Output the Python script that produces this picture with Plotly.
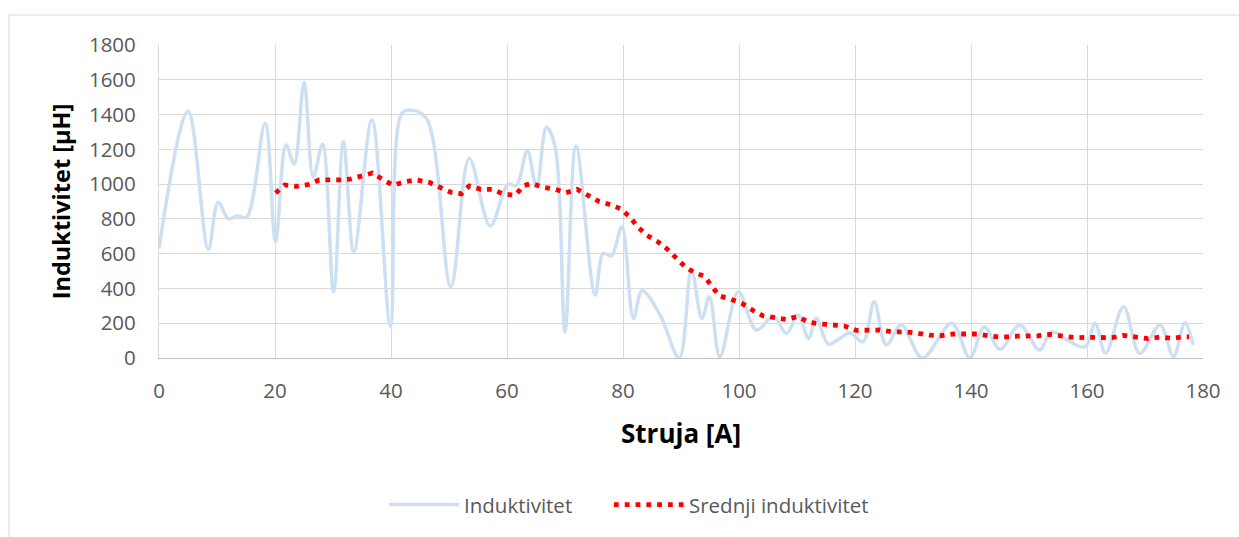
import plotly.graph_objects as go

# Induktivitet (measured, smoothed line)
ind_x = [0, 5, 8.5, 10.2, 12, 13.5, 15.1, 18.3, 20.1, 21.9, 23.3, 25, 26.6, 28.2, 30.1, 31.8, 33.6, 36.7,
         39.9, 41.8, 43.3, 46.1, 50.3, 53.5, 57.1, 60.2, 61.6, 63.5, 65.1, 66.8, 68.3, 70, 71.9, 75.2,
         76.6, 78, 79.8, 81.8, 83.3, 86.4, 89.7, 91.8, 93.6, 94.9, 96.7, 99.9, 103, 105.9, 108.2, 110.2,
         112, 113.3, 115.4, 117.4, 119.1, 121.4, 123.3, 125.4, 128, 131.6, 136.7, 139.8, 142.3, 145,
         148.4, 151.8, 153.9, 157, 159.7, 161.4, 163.2, 166.3, 169.1, 172.6, 174.9, 176.9, 178.3]
ind_y = [630, 1420, 625, 895, 800, 818, 809, 1350, 669, 1225, 1116, 1585, 1043, 1229, 381, 1244, 611, 1369,
         184, 1403, 1426, 1378, 410, 1148, 759, 1000, 991, 1190, 985, 1327, 1215, 151, 1219, 362,
         602, 587, 755, 228, 387, 247, 0, 506, 228, 353, 8, 381, 161, 238, 142, 247,
         113, 228, 80, 113, 145, 94, 324, 75, 190, 0, 200, 0, 180, 50,
         190, 46, 151, 94, 65, 200, 27, 295, 27, 190, 8, 203, 75]

# Srednji induktivitet (moving average)
avg_x = [20.1, 21.7, 23.7, 25.9, 27.6, 29.3, 31, 32.9, 34.9, 36.8, 38.7, 40.4, 42.4, 44.4, 46.6, 48.4,
         50.3, 52.1, 53.5, 55.5, 57.5, 59.5, 61.5, 62.8, 64.3, 66.3, 68.3, 70.2, 72.1, 74, 75.8, 77.8,
         79.8, 81.3, 82.6, 84.1, 86, 87.6, 89.1, 90.7, 92.2, 94, 95.3, 96.6, 98.5, 100.5, 102.3, 104.1,
         106.1, 108.1, 110.1, 112.1, 114.1, 116.1, 118.2, 120.2, 122.2, 124.3, 126.4, 128.5, 130.6,
         132.8, 134.8, 137, 139.1, 141.1, 143.1, 145.3, 147.4, 149.5, 151.6, 153.6, 155.8, 158, 160.1,
         162.2, 164.3, 166.3, 168.4, 170.5, 172.6, 174.6, 176.7, 177.6]
avg_y = [949, 995, 987, 999, 1024, 1022, 1024, 1028, 1043, 1064, 1024, 993, 1014, 1024, 1010, 985,
         953, 944, 990, 970, 970, 941, 937, 991, 1004, 981, 970, 951, 970, 935, 901, 882,
         855, 805, 752, 706, 669, 627, 575, 525, 493, 470, 414, 357, 339, 314, 276, 243,
         232, 222, 238, 205, 196, 190, 184, 159, 159, 161, 150, 151, 144,
         131, 128, 138, 138, 138, 127, 119, 125, 125, 128, 136, 128, 117, 119,
         121, 117, 130, 119, 111, 121, 113, 122, 122]

x_ticks = list(range(0, 181, 20))
y_ticks = list(range(0, 1801, 200))

FONT = "Open Sans"
GRAY = "#595959"
GRID = "#d9d9d9"

fig = go.Figure()
fig.add_trace(go.Scatter(
    x=ind_x, y=ind_y, name="Induktivitet", mode="lines", legend="legend",
    line=dict(color="#cde0f2", width=3.5, shape="spline", smoothing=1.0),
))
fig.add_trace(go.Scatter(
    x=avg_x, y=avg_y, name="Srednji induktivitet", mode="lines", legend="legend2",
    line=dict(color="#ff0000", width=4.8, dash="4.8px,6px"),
))

legend_common = dict(orientation="h", yanchor="top", y=-0.405,
                     font=dict(family=FONT, size=20.5, color=GRAY), itemwidth=70,
                     bgcolor="rgba(0,0,0,0)", xanchor="left")

fig.update_layout(
    width=1239, height=537,
    margin=dict(l=159, r=36, t=45, b=179),
    paper_bgcolor="white", plot_bgcolor="white",
    font=dict(family=FONT, color=GRAY, size=20),
    showlegend=True,
    legend=dict(x=0.2155, **legend_common),
    legend2=dict(x=0.431, **legend_common),
    shapes=[dict(type="rect", xref="paper", yref="paper",
                 x0=-0.1437, x1=1.06, y0=-0.75, y1=1.0958,
                 line=dict(color=GRID, width=1), fillcolor="rgba(0,0,0,0)", layer="below")],
)
fig.update_xaxes(
    range=[0, 180], tickvals=x_ticks, ticktext=[str(v) for v in x_ticks],
    showgrid=True, gridcolor=GRID, gridwidth=1.2,
    showline=True, linecolor="#bfbfbf", linewidth=1.2,
    zeroline=False, ticks="", ticklabelstandoff=14,
    tickfont=dict(family=FONT, size=20.5, color=GRAY),
    title=dict(text="<b>Struja [A]</b>", font=dict(family=FONT, size=26, color="#000000"), standoff=22),
)
fig.update_yaxes(
    range=[0, 1800], tickvals=y_ticks, ticktext=[str(v) for v in y_ticks],
    showgrid=True, gridcolor=GRID, gridwidth=1.2,
    showline=True, linecolor=GRID, linewidth=1.2,
    zeroline=False, ticks="", ticklabelstandoff=18,
    tickfont=dict(family=FONT, size=20.5, color=GRAY),
    title=dict(text="<b>Induktivitet [µH]</b>", font=dict(family=FONT, size=23.5, color="#000000"), standoff=11),
)

fig.write_html("out.html", config={"displayModeBar": False},
               post_script="document.body.style.margin='0';document.body.style.overflow='hidden';")
